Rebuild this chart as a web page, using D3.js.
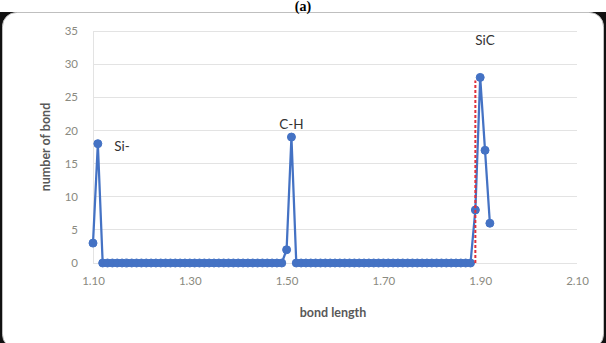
<!DOCTYPE html>
<html><head><meta charset="utf-8">
<script src="https://cdn.jsdelivr.net/npm/d3@7/dist/d3.min.js"></script>
<style>html,body{margin:0;padding:0;background:#fff;overflow:hidden}</style>
</head><body>
<svg id="c" width="606" height="343"></svg>
<script>
const bondLength = [1.10,1.11,1.12,1.13,1.14,1.15,1.16,1.17,1.18,1.19,1.20,1.21,1.22,1.23,1.24,1.25,1.26,1.27,1.28,1.29,1.30,1.31,1.32,1.33,1.34,1.35,1.36,1.37,1.38,1.39,1.40,1.41,1.42,1.43,1.44,1.45,1.46,1.47,1.48,1.49,1.50,1.51,1.52,1.53,1.54,1.55,1.56,1.57,1.58,1.59,1.60,1.61,1.62,1.63,1.64,1.65,1.66,1.67,1.68,1.69,1.70,1.71,1.72,1.73,1.74,1.75,1.76,1.77,1.78,1.79,1.80,1.81,1.82,1.83,1.84,1.85,1.86,1.87,1.88,1.89,1.90,1.91,1.92];
const numberOfBond = [3,18,0,0,0,0,0,0,0,0,0,0,0,0,0,0,0,0,0,0,0,0,0,0,0,0,0,0,0,0,0,0,0,0,0,0,0,0,0,0,2,19,0,0,0,0,0,0,0,0,0,0,0,0,0,0,0,0,0,0,0,0,0,0,0,0,0,0,0,0,0,0,0,0,0,0,0,0,0,8,28,17,6];
const xTicks = [1.10,1.30,1.50,1.70,1.90,2.10];
const yTicks = [0,5,10,15,20,25,30,35];
const labels = [{t:"Si-",x:1.16,y:16.9},{t:"C-H",x:1.51,y:20.2},{t:"SiC",x:1.91,y:32.9}];
const refLine = {x:1.89,y0:0,y1:28};

const svg = d3.select("#c");
const font = "Lato, 'Liberation Sans', sans-serif";

// frame
svg.append("rect").attr("x",0).attr("y",12).attr("width",606).attr("height",331).attr("fill","#111");
svg.append("rect").attr("x",2.5).attr("y",12.5).attr("width",601).attr("height",336).attr("rx",14)
  .attr("fill","#fff").attr("stroke","#bfbfbf").attr("stroke-width",1);
svg.append("text").attr("x",303).attr("y",11).attr("text-anchor","middle")
  .attr("font-family","'Liberation Serif', serif").attr("font-weight","bold").attr("font-size",14).text("(a)");

const x = d3.scaleLinear().domain([1.10,2.10]).range([93,577]);
const y = d3.scaleLinear().domain([0,35]).range([263,31]);

// gridlines
svg.append("g").selectAll("line").data(yTicks).join("line")
  .attr("x1",x(1.10)).attr("x2",x(2.10)).attr("y1",d=>y(d)).attr("y2",d=>y(d))
  .attr("stroke","#e3e3e3").attr("stroke-width",1).attr("shape-rendering","crispEdges");
svg.append("line").attr("x1",x(1.10)).attr("x2",x(1.10)).attr("y1",y(35)).attr("y2",y(0))
  .attr("stroke","#e3e3e3").attr("shape-rendering","crispEdges");

// y axis
const ya = svg.append("g").attr("transform",`translate(${x(1.10)-10},0)`)
  .call(d3.axisLeft(y).tickValues(yTicks).tickSize(0).tickPadding(5));
ya.select(".domain").remove();
ya.selectAll("text").attr("font-family",font).attr("font-size",11.5).attr("fill","#8a8a80");

// x axis
const xa = svg.append("g").attr("transform",`translate(0,${y(0)+10})`)
  .call(d3.axisBottom(x).tickValues(xTicks).tickSize(0).tickPadding(4).tickFormat(d3.format(".2f")));
xa.select(".domain").remove();
xa.selectAll("text").attr("font-family",font).attr("font-size",11.5).attr("fill","#8a8a80");

// axis titles
svg.append("text").attr("x",333).attr("y",317).attr("text-anchor","middle")
  .attr("font-family",font).attr("font-weight","bold").attr("font-size",12.5).attr("fill","#595959").text("bond length");
svg.append("text").attr("transform","translate(50,147) rotate(-90)").attr("text-anchor","middle")
  .attr("font-family",font).attr("font-weight","bold").attr("font-size",12.5).attr("fill","#595959").text("number of bond");

const data = bondLength.map((d,i)=>({x:d,y:numberOfBond[i]}));
const color = "#4472c4";

// series line
svg.append("path").datum(data)
  .attr("d", d3.line().x(d=>x(d.x)).y(d=>y(d.y)))
  .attr("fill","none").attr("stroke",color).attr("stroke-width",2.25).attr("stroke-linejoin","round");

// markers
svg.append("g").selectAll("circle").data(data).join("circle")
  .attr("cx",d=>x(d.x)).attr("cy",d=>y(d.y)).attr("r",4)
  .attr("fill",color).attr("stroke",color).attr("stroke-width",1);

// red dashed reference
svg.append("line").attr("x1",x(refLine.x)).attr("x2",x(refLine.x))
  .attr("y1",y(refLine.y0)).attr("y2",y(refLine.y1)+3)
  .attr("stroke","#e0303a").attr("stroke-width",2).attr("stroke-dasharray","3,2");

// labels
svg.append("g").selectAll("text").data(labels).join("text")
  .attr("x",d=>x(d.x)).attr("y",d=>y(d.y)).attr("text-anchor","middle")
  .attr("font-family",font).attr("font-size",13.5).attr("fill","#333").text(d=>d.t);
</script>
</body></html>
